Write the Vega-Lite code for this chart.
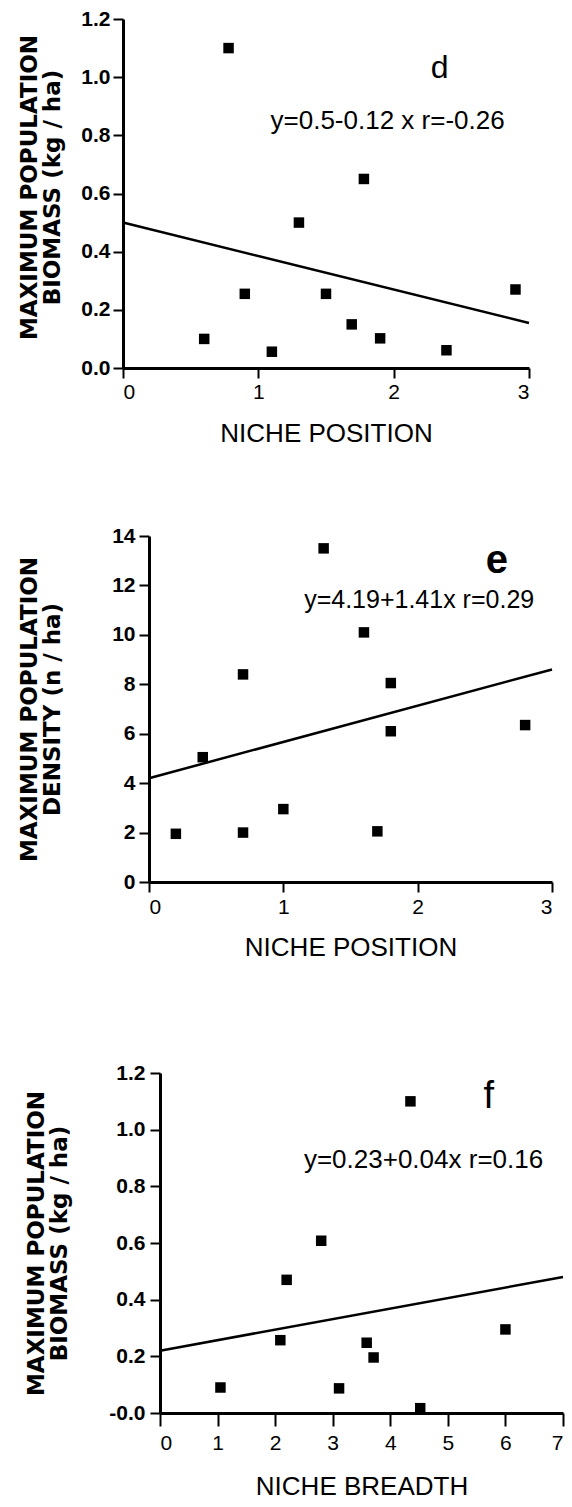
{
  "$schema": "https://vega.github.io/schema/vega-lite/v6.json",
  "background": "white",
  "padding": {"left": 17, "top": 8, "right": 0, "bottom": 0},
  "spacing": 79,
  "config": {
    "view": {"stroke": null},
    "font": "Liberation Sans",
    "axis": {
      "grid": false,
      "domainColor": "black",
      "domainWidth": 3,
      "tickColor": "black",
      "tickWidth": 2,
      "tickSize": 10,
      "labelColor": "black",
      "labelFont": "Liberation Sans",
      "labelFontSize": 21,
      "titleColor": "black",
      "titleFont": "Liberation Sans"
    },
    "axisX": {"titleFontSize": 26, "titleFontWeight": "normal", "labelPadding": 3, "titlePadding": 18, "labelAngle": 0},
    "axisY": {"titleFont": "DejaVu Sans", "titleFontSize": 23, "titleFontWeight": "bold", "titleLineHeight": 23, "labelPadding": 3, "labelFontWeight": "bold"}
  },
  "datasets": {
    "d_pts": [
      {"niche_position": 0.6, "biomass": 0.10},
      {"niche_position": 0.78, "biomass": 1.10},
      {"niche_position": 0.9, "biomass": 0.255},
      {"niche_position": 1.1, "biomass": 0.056},
      {"niche_position": 1.3, "biomass": 0.50},
      {"niche_position": 1.5, "biomass": 0.255},
      {"niche_position": 1.69, "biomass": 0.15},
      {"niche_position": 1.78, "biomass": 0.65},
      {"niche_position": 1.9, "biomass": 0.102},
      {"niche_position": 2.39, "biomass": 0.061},
      {"niche_position": 2.9, "biomass": 0.27}
    ],
    "d_fit": [
      {"niche_position": 0, "biomass": 0.5},
      {"niche_position": 3, "biomass": 0.155}
    ],
    "d_letter": [{"niche_position": 2.34, "biomass": 1.03, "label": "d"}],
    "d_eq": [{"niche_position": 1.09, "biomass": 0.85, "label": "y=0.5-0.12 x r=-0.26"}],
    "e_pts": [
      {"niche_position": 0.2, "density": 1.95},
      {"niche_position": 0.4, "density": 5.05},
      {"niche_position": 0.7, "density": 2.0},
      {"niche_position": 0.7, "density": 8.4},
      {"niche_position": 1.0, "density": 2.95},
      {"niche_position": 1.3, "density": 13.5},
      {"niche_position": 1.6, "density": 10.1},
      {"niche_position": 1.7, "density": 2.05},
      {"niche_position": 1.8, "density": 8.05},
      {"niche_position": 1.8, "density": 6.1},
      {"niche_position": 2.8, "density": 6.35}
    ],
    "e_fit": [
      {"niche_position": 0, "density": 4.2},
      {"niche_position": 3, "density": 8.6}
    ],
    "e_letter": [{"niche_position": 2.59, "density": 13.0, "label": "e"}],
    "e_eq": [{"niche_position": 1.155, "density": 11.4, "label": "y=4.19+1.41x r=0.29"}],
    "f_pts": [
      {"niche_breadth": 1.05, "biomass": 0.09},
      {"niche_breadth": 2.09, "biomass": 0.257},
      {"niche_breadth": 2.2, "biomass": 0.47},
      {"niche_breadth": 2.8, "biomass": 0.608},
      {"niche_breadth": 3.11, "biomass": 0.087},
      {"niche_breadth": 3.59, "biomass": 0.248},
      {"niche_breadth": 3.71, "biomass": 0.196},
      {"niche_breadth": 4.35, "biomass": 1.10},
      {"niche_breadth": 4.52, "biomass": 0.017},
      {"niche_breadth": 6.0, "biomass": 0.295}
    ],
    "f_fit": [
      {"niche_breadth": 0, "biomass": 0.22},
      {"niche_breadth": 7, "biomass": 0.48}
    ],
    "f_letter": [{"niche_breadth": 5.71, "biomass": 1.115, "label": "f"}],
    "f_eq": [{"niche_breadth": 2.5, "biomass": 0.893, "label": "y=0.23+0.04x  r=0.16"}]
  },
  "vconcat": [
    {
      "width": 406,
      "height": 349,
      "encoding": {
        "x": {"field": "niche_position", "type": "quantitative",
              "scale": {"domain": [0, 3], "nice": false, "zero": false},
              "axis": {"values": [0, 1, 2, 3], "format": "d", "title": "NICHE POSITION"}},
        "y": {"field": "biomass", "type": "quantitative",
              "scale": {"domain": [0, 1.2], "nice": false, "zero": false},
              "axis": {"values": [0, 0.2, 0.4, 0.6, 0.8, 1.0, 1.2], "format": ".1f",
                       "title": ["MAXIMUM POPULATION", "BIOMASS (kg / ha)"], "titleX": -82, "titleY": 168}}
      },
      "layer": [
        {"data": {"name": "d_pts"}, "mark": {"type": "square", "filled": true, "color": "black", "size": 110, "opacity": 1}},
        {"data": {"name": "d_fit"}, "mark": {"type": "line", "color": "black", "strokeWidth": 2.5}},
        {"data": {"name": "d_letter"}, "mark": {"type": "text", "align": "center", "baseline": "middle", "fontSize": 32, "color": "black"},
         "encoding": {"text": {"field": "label"}}},
        {"data": {"name": "d_eq"}, "mark": {"type": "text", "align": "left", "baseline": "middle", "fontSize": 26, "color": "black"},
         "encoding": {"text": {"field": "label"}}}
      ]
    },
    {
      "width": 429,
      "height": 346,
      "encoding": {
        "x": {"field": "niche_position", "type": "quantitative",
              "scale": {"domain": [0, 3], "range": [26, 429], "nice": false, "zero": false},
              "axis": {"values": [0, 1, 2, 3], "format": "d", "title": ["NICHE POSITION", " "], "titleLineHeight": 23, "labelPadding": 4, "titlePadding": 17}},
        "y": {"field": "density", "type": "quantitative",
              "scale": {"domain": [0, 14], "nice": false, "zero": false},
              "axis": {"values": [0, 2, 4, 6, 8, 10, 12, 14], "format": "d", "labelPadding": 4, "offset": -26,
                       "title": ["MAXIMUM POPULATION", "DENSITY (n / ha)"], "titleX": -108}}
      },
      "layer": [
        {"data": {"name": "e_pts"}, "mark": {"type": "square", "filled": true, "color": "black", "size": 110, "opacity": 1}},
        {"data": {"name": "e_fit"}, "mark": {"type": "line", "color": "black", "strokeWidth": 2.5}},
        {"data": {"name": "e_letter"}, "mark": {"type": "text", "align": "center", "baseline": "middle", "fontSize": 40, "fontWeight": "bold", "color": "black"},
         "encoding": {"text": {"field": "label"}}},
        {"data": {"name": "e_eq"}, "mark": {"type": "text", "align": "left", "baseline": "middle", "fontSize": 25, "color": "black"},
         "encoding": {"text": {"field": "label"}}}
      ]
    },
    {
      "width": 440,
      "height": 340,
      "encoding": {
        "x": {"field": "niche_breadth", "type": "quantitative",
              "scale": {"domain": [0, 7], "range": [37, 440], "nice": false, "zero": false},
              "axis": {"values": [0, 1, 2, 3, 4, 5, 6, 7], "format": "d", "title": "NICHE BREADTH", "tickSize": 13, "labelPadding": 6, "titlePadding": 20}},
        "y": {"field": "biomass", "type": "quantitative",
              "scale": {"domain": [0, 1.2], "nice": false, "zero": false},
              "axis": {"values": [0, 0.2, 0.4, 0.6, 0.8, 1.0, 1.2], "labelPadding": 5, "offset": -37,
                       "labelExpr": "datum.value == 0 ? '-0.0' : format(datum.value, '.1f')",
                       "title": ["MAXIMUM POPULATION", "BIOMASS (kg / ha)"], "titleX": -112}}
      },
      "layer": [
        {"data": {"name": "f_pts"}, "mark": {"type": "square", "filled": true, "color": "black", "size": 110, "opacity": 1}},
        {"data": {"name": "f_fit"}, "mark": {"type": "line", "color": "black", "strokeWidth": 2.5}},
        {"data": {"name": "f_letter"}, "mark": {"type": "text", "align": "center", "baseline": "middle", "fontSize": 38, "color": "black"},
         "encoding": {"text": {"field": "label"}}},
        {"data": {"name": "f_eq"}, "mark": {"type": "text", "align": "left", "baseline": "middle", "fontSize": 26, "color": "black"},
         "encoding": {"text": {"field": "label"}}}
      ]
    }
  ]
}
